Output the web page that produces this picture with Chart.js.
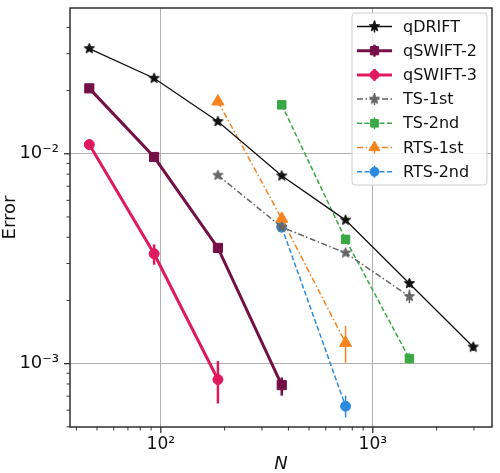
<!DOCTYPE html>
<html>
<head>
<meta charset="utf-8">
<script src="https://cdn.jsdelivr.net/npm/chart.js@4.4.1/dist/chart.umd.min.js"></script>
<style>
  html, body { margin: 0; padding: 0; background: #fff; }
  #wrap { width: 500px; height: 473px; }
</style>
</head>
<body>
<div id="wrap"><canvas id="chart" width="500" height="473"></canvas></div>
<script>
// --- data (N = number of samples / steps) ---
var nQdrift  = [46, 93, 186, 372, 744, 1488, 2976];
var qdrift   = [0.0317, 0.0229, 0.01424, 0.00785, 0.00483, 0.00241, 0.00120];
var qdriftLo = [null, null, null, null, null, 0.00231, 0.00115];
var qdriftHi = [null, null, null, null, null, 0.00252, 0.00125];

var nQswift2  = [46, 93, 186, 372];
var qswift2   = [0.0205, 0.00965, 0.00356, 0.00079];
var qswift2Lo = [null, null, null, 0.000704];
var qswift2Hi = [null, null, null, 0.000859];

var nQswift3  = [46, 93, 186];
var qswift3   = [0.01106, 0.00334, 0.00084];
var qswift3Lo = [0.0105, 0.00296, 0.000646];
var qswift3Hi = [0.0117, 0.0037, 0.00103];

var nTs1  = [186, 372, 744, 1488];
var ts1   = [0.0079, 0.00447, 0.00337, 0.00209];
var ts1Lo = [null, null, null, 0.00194];
var ts1Hi = [null, null, null, 0.00225];

var nTs2  = [372, 744, 1488];
var ts2   = [0.0171, 0.00391, 0.001057];
var ts2Lo = [null, null, 0.00100];
var ts2Hi = [null, null, 0.00112];

var nRts1  = [186, 372, 744];
var rts1   = [0.01774, 0.0049, 0.001256];
var rts1Lo = [null, null, 0.00101];
var rts1Hi = [null, null, 0.00151];

var nRts2  = [372, 744];
var rts2   = [0.00447, 0.000627];
var rts2Lo = [null, 0.000554];
var rts2Hi = [null, 0.000704];

// --- axis ticks ---
var xMajorTicks  = [100, 1000];
var xMajorLabels = ['10\u00b2', '10\u00b3'];
var xMinorTicks  = [40, 50, 60, 70, 80, 90, 200, 300, 400, 500, 600, 700, 800, 900, 2000, 3000];
var yMajorTicks  = [0.001, 0.01];
var yMajorLabels = ['10\u207b\u00b3', '10\u207b\u00b2'];
var yMinorTicks  = [0.0005, 0.0006, 0.0007, 0.0008, 0.0009, 0.002, 0.003, 0.004, 0.005, 0.006, 0.007, 0.008, 0.009, 0.02, 0.03, 0.04];

var FONT = "'DejaVu Sans', sans-serif";

function makeStar(color, r) {
    var s = Math.ceil(r * 2 + 2);
    var c = document.createElement('canvas');
    c.width = s; c.height = s;
    var g = c.getContext('2d');
    g.fillStyle = color;
    g.strokeStyle = color;
    g.lineWidth = 0.8;
    g.beginPath();
    for (var i = 0; i < 10; i++) {
        var ang = -Math.PI / 2 + i * Math.PI / 5;
        var rr = i % 2 === 0 ? r : r * 0.45;
        g.lineTo(s / 2 + rr * Math.cos(ang), s / 2 + rr * Math.sin(ang));
    }
    g.closePath();
    g.fill();
    g.stroke();
    return c;
}

function pts(xs, ys) {
    return xs.map(function (x, i) { return { x: x, y: ys[i] }; });
}

function series(label, xs, ys, lo, hi, color, style) {
    return {
        label: label,
        data: pts(xs, ys),
        errLo: lo,
        errHi: hi,
        borderColor: color,
        backgroundColor: color,
        pointBackgroundColor: color,
        pointBorderColor: color,
        borderWidth: style.width,
        borderDash: style.dash || [],
        pointStyle: style.point,
        pointRadius: style.radius,
        pointHoverRadius: style.radius,
        pointBorderWidth: 1,
        errWidth: style.errWidth || 1.5,
        tension: 0
    };
}

var datasets = [
    series('qDRIFT', nQdrift, qdrift, qdriftLo, qdriftHi, '#111111',
        { width: 1.3, point: makeStar('#111111', 5.5), radius: 5.5 }),
    series('qSWIFT-2', nQswift2, qswift2, qswift2Lo, qswift2Hi, '#741046',
        { width: 3, point: 'rect', radius: 6.5, errWidth: 2.5 }),
    series('qSWIFT-3', nQswift3, qswift3, qswift3Lo, qswift3Hi, '#e0195e',
        { width: 3, point: 'circle', radius: 5, errWidth: 2.5 }),
    series('TS-1st', nTs1, ts1, ts1Lo, ts1Hi, '#666666',
        { width: 1.5, dash: [6, 2.5, 1.5, 2.5], point: makeStar('#666666', 5.5), radius: 5.5 }),
    series('TS-2nd', nTs2, ts2, ts2Lo, ts2Hi, '#3aa845',
        { width: 1.5, dash: [5, 2.5], point: 'rect', radius: 6 }),
    series('RTS-1st', nRts1, rts1, rts1Lo, rts1Hi, '#f5841f',
        { width: 1.5, dash: [6, 2.5, 1.5, 2.5], point: 'triangle', radius: 7 }),
    series('RTS-2nd', nRts2, rts2, rts2Lo, rts2Hi, '#2a8be0',
        { width: 1.5, dash: [5, 2.5], point: 'circle', radius: 5 })
];

function isMajor(list, v) {
    return list.some(function (m) { return Math.abs(m - v) / m < 1e-6; });
}

function noPadding(scale) {
    scale.paddingLeft = 0;
    scale.paddingRight = 0;
    scale.paddingTop = 0;
    scale.paddingBottom = 0;
}

// error bars drawn through the scales
var errorBars = {
    id: 'errorBars',
    afterDatasetsDraw: function (chart) {
        var ctx = chart.ctx, xs = chart.scales.x, ys = chart.scales.y;
        ctx.save();
        chart.data.datasets.forEach(function (ds) {
            ctx.strokeStyle = ds.borderColor;
            ctx.lineWidth = ds.errWidth;
            ds.data.forEach(function (p, i) {
                if (ds.errLo[i] == null) return;
                var px = xs.getPixelForValue(p.x);
                ctx.beginPath();
                ctx.moveTo(px, ys.getPixelForValue(ds.errLo[i]));
                ctx.lineTo(px, ys.getPixelForValue(ds.errHi[i]));
                ctx.stroke();
            });
        });
        ctx.restore();
    }
};

// frame and outward ticks, matplotlib style
var frameTicks = {
    id: 'frameTicks',
    afterDraw: function (chart) {
        var ctx = chart.ctx, a = chart.chartArea;
        var xs = chart.scales.x, ys = chart.scales.y;
        ctx.save();
        ctx.strokeStyle = '#222';
        function tick(x1, y1, x2, y2, w) {
            ctx.lineWidth = w;
            ctx.beginPath(); ctx.moveTo(x1, y1); ctx.lineTo(x2, y2); ctx.stroke();
        }
        xMajorTicks.forEach(function (v) { var p = xs.getPixelForValue(v); tick(p, a.bottom, p, a.bottom + 6, 1.2); });
        xMinorTicks.forEach(function (v) { var p = xs.getPixelForValue(v); tick(p, a.bottom, p, a.bottom + 3.5, 0.9); });
        yMajorTicks.forEach(function (v) { var p = ys.getPixelForValue(v); tick(a.left, p, a.left - 6, p, 1.2); });
        yMinorTicks.forEach(function (v) { var p = ys.getPixelForValue(v); tick(a.left, p, a.left - 3.5, p, 0.9); });
        ctx.lineWidth = 1.4;
        ctx.strokeRect(a.left, a.top, a.right - a.left, a.bottom - a.top);
        ctx.restore();
    }
};

// legend with line + marker handles
var lineLegend = {
    id: 'lineLegend',
    afterDraw: function (chart) {
        var ctx = chart.ctx;
        var bx = 352, by = 13, bw = 135, bh = 172, rowH = 24.2;
        ctx.save();
        ctx.beginPath();
        ctx.roundRect(bx, by, bw, bh, 3);
        ctx.fillStyle = 'rgba(255,255,255,0.85)';
        ctx.fill();
        ctx.strokeStyle = '#d0d0d0';
        ctx.lineWidth = 1;
        ctx.stroke();
        chart.data.datasets.forEach(function (ds, i) {
            var y = by + 13.5 + i * rowH;
            ctx.strokeStyle = ds.borderColor;
            ctx.fillStyle = ds.borderColor;
            ctx.lineWidth = ds.borderWidth;
            ctx.setLineDash(ds.borderDash);
            ctx.beginPath(); ctx.moveTo(357, y); ctx.lineTo(392, y); ctx.stroke();
            ctx.setLineDash([]);
            ctx.lineWidth = ds.errWidth;
            ctx.beginPath(); ctx.moveTo(374.5, y - 6); ctx.lineTo(374.5, y + 6); ctx.stroke();
            ctx.lineWidth = 1;
            Chart.helpers.drawPoint(ctx, { pointStyle: ds.pointStyle, radius: ds.pointRadius * 0.9, rotation: 0, borderWidth: 1 }, 374.5, y);
            ctx.fillStyle = '#111';
            ctx.font = '16px ' + FONT;
            ctx.textBaseline = 'middle';
            ctx.textAlign = 'left';
            ctx.fillText(ds.label, 403, y + 1);
        });
        ctx.restore();
    }
};

new Chart(document.getElementById('chart').getContext('2d'), {
    type: 'line',
    data: { datasets: datasets },
    plugins: [errorBars, frameTicks, lineLegend],
    options: {
        responsive: false,
        animation: false,
        layout: { padding: { top: 4, right: 5, left: 0, bottom: 0 } },
        plugins: {
            legend: { display: false },
            tooltip: { enabled: false }
        },
        scales: {
            x: {
                type: 'logarithmic',
                min: 37.3,
                max: 3650,
                afterBuildTicks: function (scale) {
                    scale.ticks = xMinorTicks.concat(xMajorTicks).sort(function (a, b) { return a - b; })
                        .map(function (v) { return { value: v }; });
                },
                afterFit: function (scale) { scale.height = 46; noPadding(scale); },
                border: { display: false },
                grid: {
                    drawTicks: false,
                    lineWidth: 1,
                    color: function (c) { return c.tick && isMajor(xMajorTicks, c.tick.value) ? '#b0b0b0' : 'rgba(0,0,0,0)'; }
                },
                ticks: {
                    autoSkip: false,
                    maxRotation: 0,
                    padding: 7,
                    color: '#111',
                    font: { family: FONT, size: 17 },
                    callback: function (value) {
                        var k = xMajorTicks.findIndex(function (m) { return Math.abs(m - value) / m < 1e-6; });
                        return k >= 0 ? xMajorLabels[k] : '';
                    }
                },
                title: {
                    display: true,
                    text: 'N',
                    color: '#111',
                    padding: { top: 0, bottom: -2 },
                    font: { family: FONT, size: 18, style: 'italic' }
                }
            },
            y: {
                type: 'logarithmic',
                min: 0.000499,
                max: 0.0495,
                afterBuildTicks: function (scale) {
                    scale.ticks = yMinorTicks.concat(yMajorTicks).sort(function (a, b) { return a - b; })
                        .map(function (v) { return { value: v }; });
                },
                afterFit: function (scale) { scale.width = 70; noPadding(scale); },
                border: { display: false },
                grid: {
                    drawTicks: false,
                    lineWidth: 1,
                    color: function (c) { return c.tick && isMajor(yMajorTicks, c.tick.value) ? '#b0b0b0' : 'rgba(0,0,0,0)'; }
                },
                ticks: {
                    autoSkip: false,
                    padding: 11,
                    color: '#111',
                    font: { family: FONT, size: 18 },
                    callback: function (value) {
                        var k = yMajorTicks.findIndex(function (m) { return Math.abs(m - value) / m < 1e-6; });
                        return k >= 0 ? yMajorLabels[k] : '';
                    }
                },
                title: {
                    display: true,
                    text: 'Error',
                    color: '#111',
                    padding: 0,
                    font: { family: FONT, size: 18 }
                }
            }
        }
    }
});
</script>
</body>
</html>
